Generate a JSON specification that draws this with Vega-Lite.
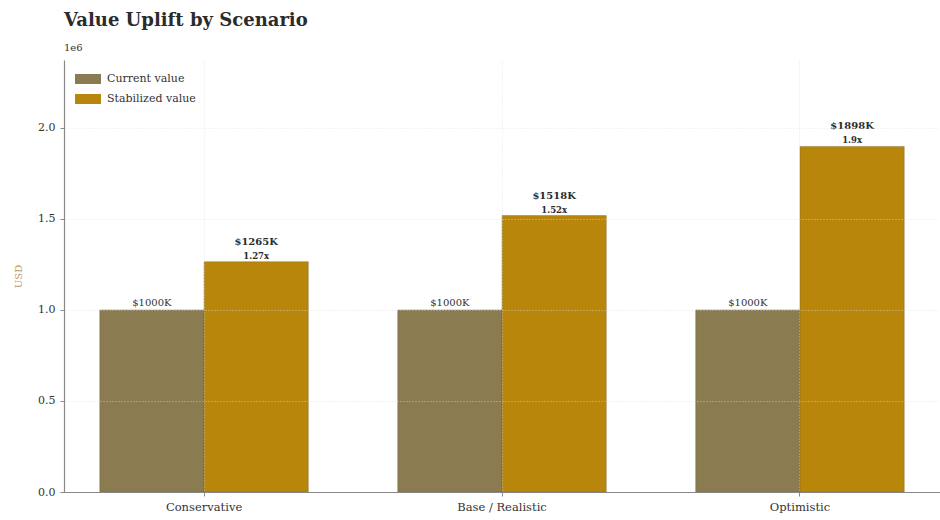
{
  "$schema": "https://vega.github.io/schema/vega-lite/v6.json",
  "autosize": {"type": "none"},
  "width": 876,
  "height": 432,
  "padding": {"left": 64, "top": 60, "right": 0, "bottom": 28},
  "background": "white",
  "config": {
    "font": "DejaVu Serif",
    "view": {"stroke": null},
    "axis": {"labelFont": "DejaVu Serif", "titleFont": "DejaVu Serif"},
    "text": {"font": "DejaVu Serif"},
    "legend": {"labelFont": "DejaVu Serif"}
  },
  "title": {
    "text": "Value Uplift by Scenario",
    "subtitle": "1e6",
    "anchor": "start",
    "frame": "group",
    "font": "DejaVu Serif",
    "fontSize": 18,
    "fontWeight": "bold",
    "color": "#2b2b2b",
    "subtitleFont": "DejaVu Serif",
    "subtitleFontSize": 10,
    "subtitleColor": "#333333",
    "subtitlePadding": 13,
    "offset": 7
  },
  "data": {
    "values": [
      {"scenario": "Conservative", "series": "Current value", "value": 1000000, "label": "$1000K", "ratio": ""},
      {"scenario": "Conservative", "series": "Stabilized value", "value": 1265000, "label": "$1265K", "ratio": "1.27x"},
      {"scenario": "Base / Realistic", "series": "Current value", "value": 1000000, "label": "$1000K", "ratio": ""},
      {"scenario": "Base / Realistic", "series": "Stabilized value", "value": 1518000, "label": "$1518K", "ratio": "1.52x"},
      {"scenario": "Optimistic", "series": "Current value", "value": 1000000, "label": "$1000K", "ratio": ""},
      {"scenario": "Optimistic", "series": "Stabilized value", "value": 1898000, "label": "$1898K", "ratio": "1.9x"}
    ]
  },
  "encoding": {
    "x": {
      "field": "scenario",
      "type": "nominal",
      "sort": ["Conservative", "Base / Realistic", "Optimistic"],
      "scale": {"paddingInner": 0.3, "paddingOuter": 0.12},
      "axis": {
        "title": null,
        "labelAngle": 0,
        "labelFont": "DejaVu Serif",
        "labelFontSize": 11.5,
        "labelColor": "#333333",
        "labelPadding": 5,
        "domainColor": "#888888",
        "domainWidth": 1.2,
        "tickColor": "#888888",
        "tickSize": 4,
        "grid": true,
        "gridColor": "#dddddd",
        "gridDash": [1, 2],
        "gridOpacity": 0.7,
        "bandPosition": 0.5,
        "zindex": 1
      }
    },
    "xOffset": {"field": "series", "type": "nominal", "sort": ["Current value", "Stabilized value"]},
    "y": {
      "field": "value",
      "type": "quantitative",
      "scale": {"domain": [0, 2372500], "nice": false},
      "axis": {
        "title": "USD",
        "titleColor": "#c09a6a",
        "titleFont": "DejaVu Serif",
        "titleFontSize": 10,
        "titleFontWeight": "normal",
        "titlePadding": 14,
        "values": [0, 500000, 1000000, 1500000, 2000000],
        "labelExpr": "format(datum.value / 1000000, '.1f')",
        "labelFont": "DejaVu Serif",
        "labelFontSize": 11,
        "labelColor": "#333333",
        "labelPadding": 5,
        "domainColor": "#888888",
        "domainWidth": 1.2,
        "tickColor": "#888888",
        "tickSize": 4,
        "grid": true,
        "gridColor": "#dddddd",
        "gridDash": [1, 2],
        "gridOpacity": 0.7,
        "zindex": 1
      }
    }
  },
  "layer": [
    {
      "mark": {"type": "bar", "stroke": "#6b5a2e", "strokeWidth": 0.6, "strokeOpacity": 0.6},
      "encoding": {
        "color": {
          "field": "series",
          "type": "nominal",
          "scale": {"domain": ["Current value", "Stabilized value"], "range": ["#8b7b50", "#b8860b"]},
          "legend": {
            "title": null,
            "orient": "none",
            "legendX": 14,
            "legendY": 9,
            "symbolType": "M-1.3,-0.5H1.3V0.5H-1.3Z",
            "symbolSize": 400,
            "symbolStrokeWidth": 0,
            "labelFont": "DejaVu Serif",
            "labelFontSize": 11,
            "labelColor": "#333333",
            "rowPadding": 5,
            "labelOffset": 9
          }
        }
      }
    },
    {
      "transform": [{"filter": "datum.series === 'Current value'"}],
      "mark": {"type": "text", "dy": -7, "fontSize": 10, "color": "#333333", "font": "DejaVu Serif"},
      "encoding": {"text": {"field": "label"}}
    },
    {
      "transform": [{"filter": "datum.series === 'Stabilized value'"}],
      "mark": {"type": "text", "dy": -20, "fontSize": 10, "fontWeight": "bold", "color": "#2b2b2b", "font": "DejaVu Serif"},
      "encoding": {"text": {"field": "label"}}
    },
    {
      "transform": [{"filter": "datum.series === 'Stabilized value'"}],
      "mark": {"type": "text", "dy": -6, "fontSize": 8.5, "fontWeight": "bold", "color": "#2b2b2b", "font": "DejaVu Serif"},
      "encoding": {"text": {"field": "ratio"}}
    }
  ]
}
